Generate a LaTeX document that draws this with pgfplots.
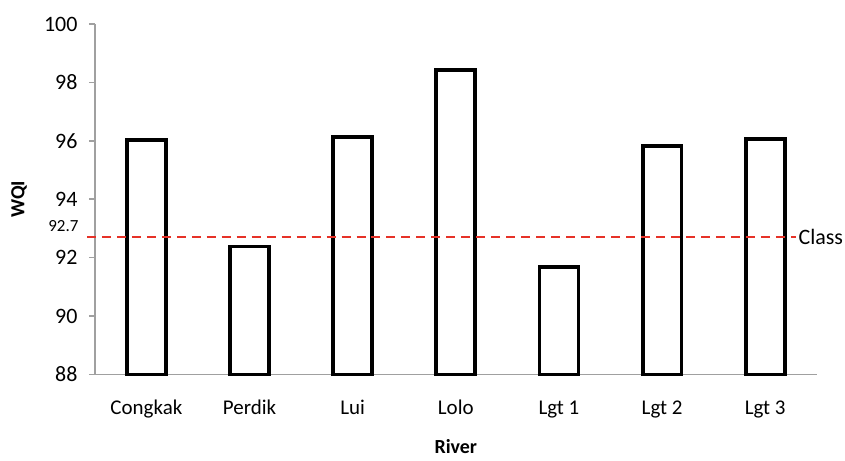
\documentclass[border=0pt]{standalone}
\usepackage{fontspec}
\setmainfont{Carlito}
\usepackage{pgfplots}
\pgfplotsset{compat=1.18}
\definecolor{classred}{RGB}{230,50,40}
\definecolor{axisgray}{RGB}{160,160,160}
\begin{document}
\begin{tikzpicture}
\begin{axis}[
        scale only axis,
        width=361.5pt, height=175.5pt,
        xmin=-0.5, xmax=6.5, ymin=88, ymax=100,
        y coord trafo/.code={\pgfmathparse{#1-88}},
        y coord inv trafo/.code={\pgfmathparse{#1+88}},
        clip=false,
        axis x line=bottom, axis y line=left,
        axis line style={draw=axisgray, line width=0.8pt, -},
        xtick={0,...,6},
        xticklabels={Congkak,Perdik,Lui,Lolo,Lgt 1,Lgt 2,Lgt 3},
        x tick style={draw=none},
        xtick align=inside,
        ytick={88,90,...,100},
        ytick align=outside,
        y tick style={draw=axisgray, line width=0.8pt},
        major tick length=3pt,
        /pgf/number format/assume math mode=true,
        xticklabel style={font=\fontsize{10.5}{12}\selectfont, anchor=base, inner sep=0pt, yshift=-20pt},
        yticklabel style={font=\fontsize{11}{13}\selectfont, inner sep=0pt, xshift=-5.5pt},
        xlabel={\textbf{River}},
        ylabel={\textbf{WQI}},
        xlabel style={font=\fontsize{10}{12}\selectfont, at={(axis description cs:0.5,0)}, anchor=center, yshift=-36pt},
        ylabel style={font=\fontsize{10}{12}\selectfont, at={(axis description cs:0,0.5)}, anchor=center, yshift=38pt},
        ]
\addplot[ybar, bar width=19.5pt, draw=black, fill=white, line width=1.9pt] coordinates {
        (0,96.03) (1,92.38) (2,96.14) (3,98.43) (4,91.69) (5,95.83) (6,96.07)
    };
\addplot[classred, line width=1pt, dash pattern=on 4.5pt off 3pt] coordinates {
        (-0.577,92.7) (6.3,92.7)
    };
\node[anchor=west, inner sep=1pt, font=\fontsize{11}{13}\selectfont] at (axis cs:6.3,92.7) {Class};
\node[anchor=east, inner sep=0pt, xshift=-8pt, yshift=5.5pt, font=\fontsize{8.5}{10}\selectfont] at (axis cs:-0.5,92.7) {92.7};
\coordinate (sw) at (rel axis cs:0,0);
\end{axis}
\path (sw) ++(-47.5pt,-41pt) rectangle ++(422.5pt,228.5pt);
\end{tikzpicture}
\end{document}
